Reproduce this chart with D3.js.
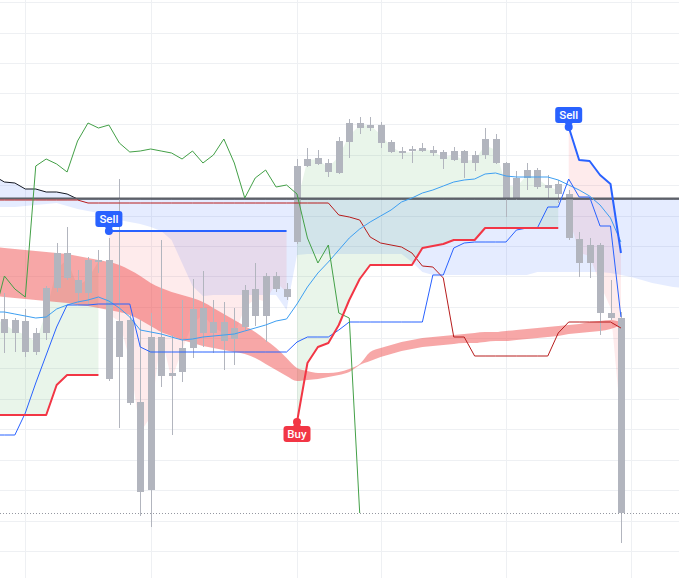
<!DOCTYPE html>
<html>
<head>
<meta charset="utf-8">
<title>Ichimoku / SuperTrend</title>
<script src="https://cdn.jsdelivr.net/npm/d3@7/dist/d3.min.js"></script>
<style>
    html, body { margin: 0; padding: 0; background: #ffffff; }
    #chart { width: 679px; height: 578px; overflow: hidden; }
    svg { display: block; }
</style>
</head>
<body>
<div id="chart"></div>
<script>
/*
 * Candles. Bar 0 sits just left of the visible area.
 */
var opens = [
    280, 281, 267, 279, 248, 267, 312, 347, 320, 307, 340,
    340, 243, 280, 198, 110, 263, 224, 228, 252, 292,
    267, 278, 261, 273, 311, 284, 324, 311, 358, 434,
    442, 437, 427, 458, 477, 472, 475, 458, 447, 449,
    452, 450, 448, 440, 449, 437, 445, 461, 437, 401,
    422, 430, 412, 416, 406, 361, 337, 355, 287, 282
];
var highs = [
    300, 307, 282, 291, 272, 314, 357, 373, 330, 343, 350,
    362, 421, 285, 280, 287, 360, 265, 300, 321, 329,
    300, 298, 292, 315, 337, 327, 328, 317, 441, 452,
    450, 441, 463, 481, 483, 483, 478, 460, 453, 454,
    457, 454, 450, 453, 450, 449, 472, 466, 438, 429,
    437, 432, 425, 420, 410, 368, 362, 357, 320, 288
];
var lows = [
    268, 247, 248, 243, 245, 260, 308, 320, 297, 295, 327,
    219, 172, 195, 84, 73, 213, 165, 218, 242, 253,
    247, 230, 235, 270, 274, 258, 308, 300, 356, 433,
    435, 423, 426, 442, 466, 469, 452, 447, 441, 437,
    448, 444, 431, 439, 422, 429, 441, 436, 383, 400,
    410, 411, 402, 397, 360, 323, 322, 265, 280, 57
];
var closes = [
    284, 267, 280, 248, 267, 312, 347, 322, 307, 340, 338,
    221, 279, 197, 108, 263, 224, 227, 252, 291, 267,
    278, 259, 272, 310, 284, 324, 311, 303, 434, 441,
    436, 428, 459, 477, 472, 475, 457, 448, 449, 451,
    449, 447, 441, 449, 437, 445, 461, 437, 402, 422,
    430, 413, 415, 406, 362, 337, 355, 287, 282, 87
];
/*
 * SuperTrend stops (null while the other side is active) and signals.
 */
var upStop = [
    185, 185, 185, 185, 185, 185, 215, 225, 225, 225, 225,
    null, null, null, null, null, null, null, null, null, null,
    null, null, null, null, null, null, null, null, 178, 237,
    253, 257, 275, 300, 321, 335, 335, 335, 335, 335,
    352, 354, 356, 360, 360, 360, 372, 372, 372, 372,
    372, 372, 372, 372, null, null, null, null, null, null
];
var downStop = [
    null, null, null, null, null, null, null, null, null, null, null,
    369, 369, 369, 369, 369, 369, 369, 369, 369, 369,
    369, 369, 369, 369, 369, 369, 369, 369, null, null,
    null, null, null, null, null, null, null, null, null, null,
    null, null, null, null, null, null, null, null, null, null,
    null, null, null, null, 473, 440, 439, 425, 416, 347
];
var signals = [
    {bar: 11, type: 'Sell'},
    {bar: 29, type: 'Buy'},
    {bar: 55, type: 'Sell'}
];
/*
 * Ichimoku style lines.
 */
var conversionLine = [
    165, 165, 165, 187, 217, 245, 273, 295, 295, 295, 296,
    296, 296, 296, 253, 248, 248, 248, 248, 248, 248,
    248, 248, 248, 248, 248, 248, 248, 248, 258, 263,
    263, 263, 270, 278, 278, 278, 278, 278, 278, 278,
    278, 325, 325, 352, 357, 358, 358, 358, 358, 370,
    372, 372, 393, 393, 421, 403, 403, 374, 374, 283
];
var baseLine = [
    400, 400, 400, 400, 400, 400, 400, 400, 400, 397, 397,
    397, 397, 397, 397, 397, 397, 397, 397, 397, 397,
    397, 397, 397, 397, 397, 397, 397, 397, 397, 397,
    397, 397, 385, 383, 380, 363, 357, 355, 353, 347,
    334, 333, 322, 263, 263, 244, 244, 244, 244, 244,
    244, 244, 244, 267, 278, 278, 278, 278, 278, 272
];
var emaLine = [
    288, 288, 286, 284, 282, 283, 291, 295, 298, 300, 303,
    299, 292, 283, 270, 268, 266, 263, 260, 261, 263,
    264, 265, 266, 269, 272, 275, 279, 281, 296, 313,
    327, 338, 350, 362, 371, 378, 384, 390, 398, 402,
    407, 410, 414, 418, 420, 421, 426, 427, 424, 423,
    423, 423, 423, 420, 415, 410, 404, 395, 382, 358
];
var laggingShift = 25;
/*
 * Shaded cloud, it runs six bars past the last candle.
 */
var cloudUpper = [
    424, 418, 417, 411, 411, 408, 408, 406, 401, 401, 401,
    401, 401, 401, 401, 401, 401, 401, 401, 401, 401,
    401, 401, 401, 401, 401, 401, 401, 401, 401, 401,
    401, 401, 401, 401, 401, 401, 401, 401, 401, 401,
    401, 401, 401, 401, 401, 401, 401, 401, 401, 401,
    401, 401, 401, 401, 401, 401, 401, 401, 401, 401,
    401, 401, 401, 401, 401, 401
];
var cloudLower = [
    393, 393, 393, 394, 395, 396, 397, 394, 391, 389, 387,
    383, 380, 378, 376, 373, 369, 360, 337, 314, 304,
    305, 305, 305, 305, 305, 305, 305, 290, 345, 346,
    346, 346, 346, 346, 346, 346, 346, 346, 346, 338,
    328, 325, 325, 325, 325, 325, 325, 325, 325, 325,
    325, 328, 328, 328, 328, 328, 328, 328, 327, 325,
    323, 320, 317, 315, 313, 312
];
/*
 * Red ribbon.
 */
var ribbonA = [
    353, 352, 351, 350, 349, 348, 347, 346, 344, 342, 340,
    338, 335, 330, 324, 317, 312, 308, 305, 302, 298,
    292, 286, 280, 274, 268, 260, 252, 242, 232, 229,
    227, 227, 228, 231, 236, 248, 252, 255, 258, 260,
    262, 263, 264, 265, 266, 267, 268, 268, 269, 270,
    271, 272, 273, 274, 275, 276, 278, 279, 280, 278
];
var ribbonB = [
    304, 303, 302, 301, 300, 299, 298, 297, 295, 294, 292,
    290, 288, 285, 280, 274, 268, 264, 260, 257, 254,
    252, 250, 248, 246, 242, 236, 230, 224, 219, 220,
    221, 223, 225, 228, 235, 239, 243, 246, 249, 251,
    253, 254, 255, 256, 257, 257, 258, 259, 259, 260,
    261, 262, 263, 264, 266, 267, 268, 269, 271, 275
];
/*
 * Horizontal level and grid positions.
 */
var levelPrice = 401.5;
var gridBars = [3, 15, 29, 37, 49, 61];
var gridLevels = d3.range(598, 0, -30.5);


/**
 * Chart.
 * @public
 * @class
 */
function SignalChart() {
    /*
     * Stash reference to this object.
     */
    var self = this;
    this._width = 679;
    this._height = 578;
    this._bodyWidth = 7;
    /*
     * Scales.
     */
    this._x = d3.scaleLinear().domain([0, 60]).range([-6.05, 620.95]);
    this._y = d3.scaleLinear().domain([22, 600]).range([578, 0]);
    /*
     * Colors.
     */
    this._colors = {
        grid: '#eef0f3',
        candle: '#b2b5be',
        cloud: 'rgba(41, 98, 255, 0.12)',
        upFill: 'rgba(76, 175, 80, 0.12)',
        downFill: 'rgba(242, 54, 69, 0.1)',
        ribbon: 'rgba(240, 80, 80, 0.5)',
        level: '#5d6068',
        lastPrice: '#9598a1',
        spanB: '#131722',
        base: '#b71c1c',
        conversion: '#2962ff',
        ema: '#3d9ff2',
        lagging: '#43a047',
        buy: '#f23645',
        sell: '#2962ff'
    };
    /*
     * Candle records with ohlc4.
     */
    this._bars = opens.map(function(open, i) {
        return {
            bar: i, open: open, high: highs[i], low: lows[i], close: closes[i],
            mid: (open + highs[i] + lows[i] + closes[i]) / 4
        };
    });
    /*
     * Line generator for plain value series.
     */
    this._line = d3.line()
        .defined(function(d) { return d.value != null; })
        .x(function(d) { return self._x(d.bar); })
        .y(function(d) { return self._y(d.value); });
}


/**
 * Turn values into bar records.
 * @private
 * @param {Number[]} values
 * @param {Number} shift
 * @returns {Object[]}
 */
SignalChart.prototype._series = function(values, shift) {

    shift = shift || 0;

    return values.map(function(v, i) {
        return {bar: i + shift, value: v};
    });
};


/**
 * Render chart.
 * @public
 * @param {String} selection
 * @returns {SignalChart}
 */
SignalChart.prototype.renderTo = function(selection) {

    this._svg = d3.select(selection).append('svg')
        .attr('width', this._width)
        .attr('height', this._height);

    this._drawGrid();
    this._drawCloud();
    this._drawTrendFills();
    this._drawRibbon();
    this._drawPath(cloudUpper, this._colors.spanB, 1);
    this._drawCandles();
    this._drawLevels();
    this._drawPath(baseLine, this._colors.base, 1);
    this._drawPath(emaLine, this._colors.ema, 1);
    this._drawPath(conversionLine, this._colors.conversion, 1);
    this._drawLagging();
    this._drawPath(upStop, this._colors.buy, 2);
    this._drawPath(downStop, this._colors.sell, 2);
    this._drawSignals();

    return this;
};


/**
 * Grid.
 * @private
 */
SignalChart.prototype._drawGrid = function() {

    var self = this;
    var g = this._svg.append('g')
        .attr('stroke', this._colors.grid)
        .attr('shape-rendering', 'crispEdges');

    g.selectAll('line.h').data(gridLevels).join('line')
        .attr('class', 'h')
        .attr('x1', 0).attr('x2', this._width)
        .attr('y1', function(d) { return Math.round(self._y(d)) + 0.5; })
        .attr('y2', function(d) { return Math.round(self._y(d)) + 0.5; });

    g.selectAll('line.v').data(gridBars).join('line')
        .attr('class', 'v')
        .attr('y1', 0).attr('y2', this._height)
        .attr('x1', function(d) { return Math.round(self._x(d)) + 0.5; })
        .attr('x2', function(d) { return Math.round(self._x(d)) + 0.5; });
};


/**
 * Cloud between upper and lower span.
 * @private
 */
SignalChart.prototype._drawCloud = function() {

    var self = this;
    var data = cloudUpper.map(function(v, i) {
        return {bar: i, top: v, bottom: cloudLower[i]};
    });

    this._svg.append('path')
        .datum(data)
        .attr('fill', this._colors.cloud)
        .attr('d', d3.area()
            .x(function(d) { return self._x(d.bar); })
            .y0(function(d) { return self._y(d.top); })
            .y1(function(d) { return self._y(d.bottom); }));
};


/**
 * Fills between the stops and ohlc4.
 * @private
 */
SignalChart.prototype._drawTrendFills = function() {

    var self = this;
    var area = d3.area()
        .defined(function(d) { return d.stop != null; })
        .x(function(d) { return self._x(d.bar); })
        .y0(function(d) { return self._y(d.stop); })
        .y1(function(d) { return self._y(d.mid); });

    [[upStop, this._colors.upFill], [downStop, this._colors.downFill]].forEach(function(pair) {
        var data = self._bars.map(function(b) {
            return {bar: b.bar, mid: b.mid, stop: pair[0][b.bar]};
        });
        self._svg.append('path')
            .datum(data)
            .attr('fill', pair[1])
            .attr('d', area);
    });
};


/**
 * Red ribbon.
 * @private
 */
SignalChart.prototype._drawRibbon = function() {

    var self = this;
    var data = ribbonA.map(function(v, i) {
        return {bar: i, a: v, b: ribbonB[i]};
    });

    this._svg.append('path')
        .datum(data)
        .attr('fill', this._colors.ribbon)
        .attr('d', d3.area()
            .curve(d3.curveMonotoneX)
            .x(function(d) { return self._x(d.bar); })
            .y0(function(d) { return self._y(d.a); })
            .y1(function(d) { return self._y(d.b); }));
};


/**
 * Candles.
 * @private
 */
SignalChart.prototype._drawCandles = function() {

    var self = this;
    var half = (this._bodyWidth - 1) / 2;
    var g = this._svg.append('g')
        .attr('shape-rendering', 'crispEdges');

    g.append('g').selectAll('line').data(this._bars).join('line')
        .attr('stroke', this._colors.candle)
        .attr('x1', function(d) { return Math.round(self._x(d.bar)) + 0.5; })
        .attr('x2', function(d) { return Math.round(self._x(d.bar)) + 0.5; })
        .attr('y1', function(d) { return self._y(d.high); })
        .attr('y2', function(d) { return self._y(d.low); });

    g.append('g').selectAll('rect').data(this._bars).join('rect')
        .attr('fill', this._colors.candle)
        .attr('x', function(d) { return Math.round(self._x(d.bar)) - half; })
        .attr('width', this._bodyWidth)
        .attr('y', function(d) { return self._y(Math.max(d.open, d.close)); })
        .attr('height', function(d) {
            return Math.max(1, Math.abs(self._y(d.open) - self._y(d.close)));
        });
};


/**
 * Horizontal level and last price line.
 * @private
 */
SignalChart.prototype._drawLevels = function() {

    var yLevel = this._y(levelPrice);
    var yLast = Math.round(this._y(closes[closes.length - 1])) + 0.5;

    this._svg.append('line')
        .attr('x1', 0).attr('x2', this._width)
        .attr('y1', yLevel).attr('y2', yLevel)
        .attr('stroke', this._colors.level)
        .attr('stroke-width', 2);

    this._svg.append('line')
        .attr('x1', 0).attr('x2', this._width)
        .attr('y1', yLast).attr('y2', yLast)
        .attr('stroke', this._colors.lastPrice)
        .attr('stroke-dasharray', '1 2');
};


/**
 * Plain line.
 * @private
 */
SignalChart.prototype._drawPath = function(values, color, width) {

    this._svg.append('path')
        .datum(this._series(values))
        .attr('fill', 'none')
        .attr('stroke', color)
        .attr('stroke-width', width)
        .attr('stroke-linejoin', 'round')
        .attr('d', this._line);
};


/**
 * Lagging span: closes shifted back.
 * @private
 */
SignalChart.prototype._drawLagging = function() {

    this._svg.append('path')
        .datum(this._series(closes.slice(laggingShift), 0))
        .attr('fill', 'none')
        .attr('stroke', this._colors.lagging)
        .attr('stroke-width', 1)
        .attr('d', this._line);
};


/**
 * Buy / Sell labels.
 * @private
 */
SignalChart.prototype._drawSignals = function() {

    var self = this;
    var g = this._svg.append('g').selectAll('g').data(signals).join('g')
        .attr('transform', function(d) {
            var v = d.type === 'Sell' ? downStop[d.bar] : upStop[d.bar];
            return 'translate(' + self._x(d.bar) + ',' + self._y(v) + ')';
        });
    var color = function(d) {
        return d.type === 'Sell' ? self._colors.sell : self._colors.buy;
    };

    g.append('circle')
        .attr('r', 4)
        .attr('fill', color);

    g.append('path')
        .attr('fill', color)
        .attr('d', function(d) {
            return d.type === 'Sell' ? 'M-4,-4L4,-4L0,0Z' : 'M-4,4L4,4L0,0Z';
        });

    g.append('rect')
        .attr('fill', color)
        .attr('x', -13.5)
        .attr('y', function(d) { return d.type === 'Sell' ? -20 : 4; })
        .attr('width', 27)
        .attr('height', 16)
        .attr('rx', 3);

    g.append('text')
        .attr('fill', '#ffffff')
        .attr('text-anchor', 'middle')
        .attr('dominant-baseline', 'central')
        .attr('y', function(d) { return d.type === 'Sell' ? -12 : 12; })
        .style('font-family', 'Roboto, "Noto Sans", sans-serif')
        .style('font-size', '11.5px')
        .style('font-weight', 500)
        .text(function(d) { return d.type; });
};


new SignalChart().renderTo('#chart');
</script>
</body>
</html>
